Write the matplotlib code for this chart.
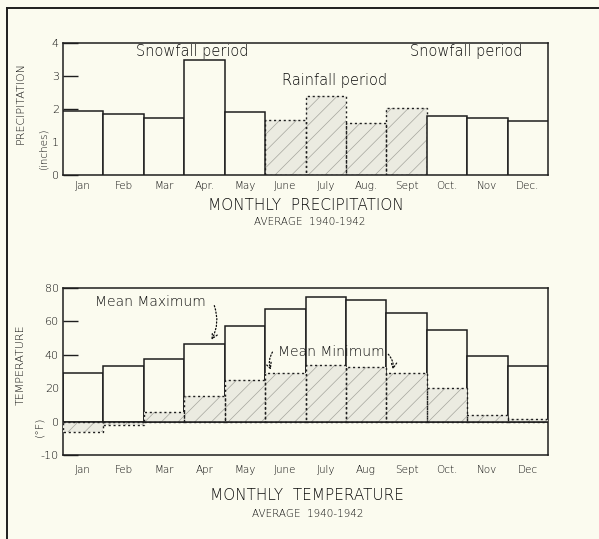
import numpy as np
import matplotlib
matplotlib.use("Agg")
import matplotlib.pyplot as plt
from matplotlib.lines import Line2D

# ---------------- data ----------------
precip_months = ["Jan", "Feb", "Mar", "Apr.", "May", "June", "July", "Aug.", "Sept", "Oct.", "Nov", "Dec."]
precip_values = [1.95, 1.85, 1.72, 3.47, 1.90, 1.68, 2.40, 1.57, 2.02, 1.78, 1.72, 1.64]
rain_months = ["June", "July", "Aug.", "Sept"]

temp_months = ["Jan", "Feb", "Mar", "Apr", "May", "June", "July", "Aug", "Sept", "Oct.", "Nov", "Dec"]
temp_max = [29, 33.5, 37.5, 46.5, 57, 67.5, 74.5, 73, 65, 55, 39, 33.5]
temp_min = [-3, -1, 6, 15.5, 25, 29, 34, 32.5, 29, 20, 4, 1.5]

precip_ticks = [0, 1, 2, 3, 4]
temp_ticks = [-10, 0, 20, 40, 60, 80]

BG = "#fbfbef"
INK = "#1e1e1e"
TXT = "#0a0a0a"
HATCH_FACE = "#ebebe1"
HATCH_LINE = "#a5a59d"

plt.rcParams["hatch.linewidth"] = 0.5
plt.rcParams["font.family"] = ["DejaVu Sans"]
plt.rcParams["font.weight"] = "light"

fig = plt.figure(figsize=(5.99, 5.39), dpi=100, facecolor=BG)

W, H = 599.0, 539.0
def ax_rect(l, t, r, b):
    return [l / W, 1 - b / H, (r - l) / W, (b - t) / H]

# ---------------- precipitation ----------------
ax1 = fig.add_axes(ax_rect(63, 43, 548, 175))
ax1.set_facecolor(BG)
x = np.arange(len(precip_months))
for i, (m, v) in enumerate(zip(precip_months, precip_values)):
    if m in rain_months:
        ax1.bar(i, v, width=1.0, color=HATCH_FACE, edgecolor=HATCH_LINE, hatch="//", linewidth=0, zorder=2)
        ax1.bar(i, v, width=1.0, fill=False, edgecolor=INK, linewidth=1.0, linestyle=(0, (1.5, 2)), zorder=3)
    else:
        ax1.bar(i, v, width=1.0, color=BG, edgecolor=INK, linewidth=1.1, zorder=3)
ax1.set_xlim(-0.5, len(precip_months) - 0.5)
ax1.set_ylim(0, 4)
ax1.set_yticks(precip_ticks)
ax1.set_xticks(x)
ax1.set_xticklabels(precip_months)
ax1.tick_params(axis="y", direction="in", length=11, width=1.0, color=INK, labelsize=8, labelcolor=TXT, pad=3)
ax1.tick_params(axis="x", length=0, labelsize=7.5, labelcolor=TXT, pad=4)
for s in ax1.spines.values():
    s.set_color(INK)
    s.set_linewidth(1.1)

ax1.text(2.69, 3.73, "Snowfall period", ha="center", va="center", fontsize=10.5, color=TXT)
ax1.text(9.48, 3.73, "Snowfall period", ha="center", va="center", fontsize=10.5, color=TXT)
ax1.text(6.23, 2.86, "Rainfall period", ha="center", va="center", fontsize=10.5, color=TXT)

fig.text(21 / W, 1 - 103 / H, "PRECIPITATION", rotation=90, ha="center", va="center", fontsize=8, color=TXT)
fig.text(43 / W, 1 - 148 / H, "(inches)", rotation=90, ha="center", va="center", fontsize=7.5, color=TXT)
fig.text(306 / W, 1 - 205 / H, "MONTHLY  PRECIPITATION", ha="center", va="center", fontsize=11, color=TXT)
fig.text(310 / W, 1 - 222 / H, "AVERAGE  1940-1942", ha="center", va="center", fontsize=7.5, color=TXT)

# ---------------- temperature ----------------
ax2 = fig.add_axes(ax_rect(63, 288, 548, 455))
ax2.set_facecolor(BG)
fwd = lambda y: np.where(np.asarray(y) >= 0, y, 2 * np.asarray(y))
inv = lambda y: np.where(np.asarray(y) >= 0, y, np.asarray(y) / 2)
ax2.set_yscale("function", functions=(fwd, inv))
xt = np.arange(len(temp_months))
ax2.bar(xt, temp_max, width=1.0, color=BG, edgecolor=INK, linewidth=1.1, zorder=2)
ax2.bar(xt, temp_min, width=1.0, color=HATCH_FACE, edgecolor=HATCH_LINE, hatch="//", linewidth=0, zorder=3)
ax2.bar(xt, temp_min, width=1.0, fill=False, edgecolor=INK, linewidth=1.0, linestyle=(0, (1.5, 2)), zorder=4)
ax2.axhline(0, color=INK, linewidth=1.1, zorder=5)
ax2.set_xlim(-0.5, len(temp_months) - 0.5)
ax2.set_ylim(-10, 80)
ax2.set_yticks(temp_ticks)
ax2.set_yticklabels([str(t) for t in temp_ticks])
ax2.yaxis.set_minor_locator(matplotlib.ticker.NullLocator())
ax2.set_xticks(xt)
ax2.set_xticklabels(temp_months)
ax2.tick_params(axis="y", direction="in", length=11, width=1.0, color=INK, labelsize=8, labelcolor=TXT, pad=3)
ax2.tick_params(axis="x", length=0, labelsize=7.5, labelcolor=TXT, pad=7)
for s in ax2.spines.values():
    s.set_color(INK)
    s.set_linewidth(1.1)

ax2.text(1.65, 71.5, "Mean Maximum", ha="center", va="center", fontsize=10, color=TXT)
ax2.annotate("", xy=(3.14, 47.5), xytext=(3.22, 71),
             arrowprops=dict(arrowstyle="->", linestyle=":", color=TXT, lw=0.9,
                             connectionstyle="arc3,rad=-0.25"))
ax2.text(6.15, 41.5, "Mean Minimum", ha="center", va="center", fontsize=10, color=TXT)
ax2.annotate("", xy=(4.67, 29.5), xytext=(4.72, 43),
             arrowprops=dict(arrowstyle="->", linestyle=":", color=TXT, lw=0.9,
                             connectionstyle="arc3,rad=0.3"))
ax2.annotate("", xy=(7.65, 29.5), xytext=(7.5, 41.5),
             arrowprops=dict(arrowstyle="->", linestyle=":", color=TXT, lw=0.9,
                             connectionstyle="arc3,rad=-0.3"))

fig.text(21 / W, 1 - 365 / H, "TEMPERATURE", rotation=90, ha="center", va="center", fontsize=8, color=TXT)
fig.text(39 / W, 1 - 427 / H, "(°F)", rotation=90, ha="center", va="center", fontsize=8, color=TXT)
fig.text(307 / W, 1 - 495 / H, "MONTHLY  TEMPERATURE", ha="center", va="center", fontsize=11, color=TXT)
fig.text(308 / W, 1 - 514 / H, "AVERAGE  1940-1942", ha="center", va="center", fontsize=7.5, color=TXT)

# page frame
fig.add_artist(Line2D([7 / W, 1.0], [1 - 8 / H, 1 - 8 / H], transform=fig.transFigure, color=INK, lw=1.4))
fig.add_artist(Line2D([7 / W, 7 / W], [1 - 8 / H, 0.0], transform=fig.transFigure, color=INK, lw=1.4))

fig.savefig("out.png", dpi=100, facecolor=BG)
